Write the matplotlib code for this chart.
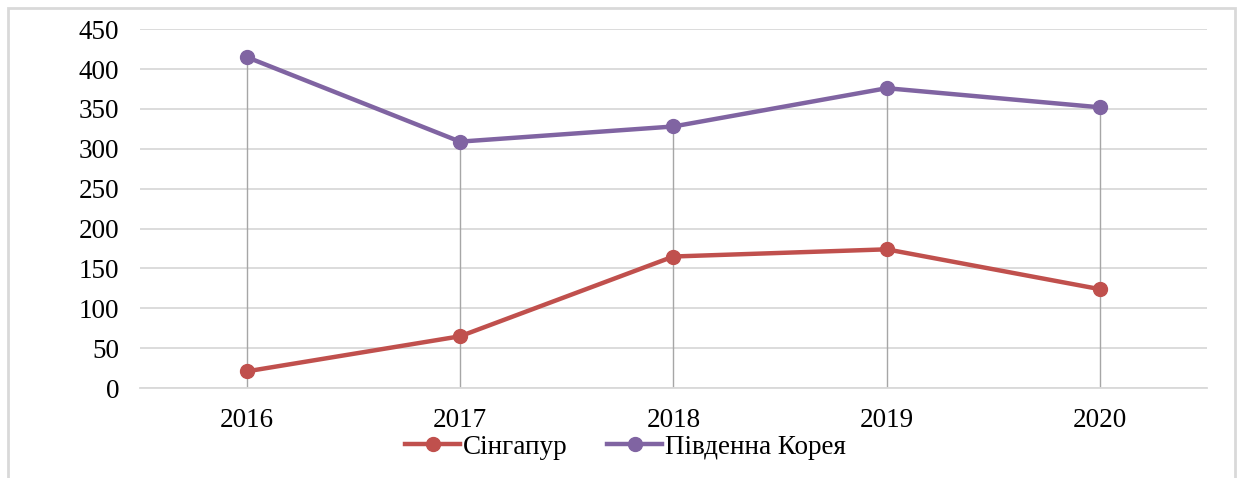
import numpy as np
import matplotlib.pyplot as plt
from matplotlib.patches import Rectangle

years = ["2016", "2017", "2018", "2019", "2020"]
singapore = [21, 65, 165, 174, 124]
korea = [415, 309, 328, 376, 352]

plt.rcParams["font.family"] = ["Liberation Serif", "DejaVu Serif"]

fig = plt.figure(figsize=(12.39, 4.78), dpi=100)
ax = fig.add_axes([0.113, 0.188, 0.861, 0.751])

# outer chart frame
fig.patches.append(Rectangle((8 / 1239, -0.05), 1227 / 1239, 1 - 8 / 478 + 0.05,
                             transform=fig.transFigure, fill=False,
                             edgecolor="#D9D9D9", linewidth=2))

x = np.arange(len(years))
top = np.maximum(singapore, korea)

# drop lines
ax.vlines(x, 0, top, color="#A6A6A6", linewidth=1, zorder=1)

ax.plot(x, singapore, color="#C0504D", linewidth=3.2, marker="o", markersize=10,
        label="Сінгапур", zorder=3)
ax.plot(x, korea, color="#8064A2", linewidth=3.2, marker="o", markersize=10,
        label="Південна Корея", zorder=3)

ax.set_xlim(-0.5, len(years) - 0.5)
ax.set_ylim(0, 450)
ax.set_yticks(np.arange(0, 451, 50))
ax.set_xticks(x)
ax.set_xticklabels(years)
ax.yaxis.grid(True, color="#D9D9D9", linewidth=1.3)
ax.set_axisbelow(True)
for s in ["top", "right", "left"]:
    ax.spines[s].set_visible(False)
ax.spines["bottom"].set_color("#D9D9D9")
ax.spines["bottom"].set_linewidth(1.3)
ax.tick_params(length=0, labelsize=19.5, colors="black")
ax.tick_params(axis="x", pad=14)
ax.tick_params(axis="y", pad=15)

ax.legend(loc="upper center", bbox_to_anchor=(0.455, -0.1), ncol=2,
          frameon=False, fontsize=19.5, handlelength=2.05, handletextpad=0.1,
          columnspacing=1.45, borderaxespad=0)

fig.savefig("out.png", dpi=100)
